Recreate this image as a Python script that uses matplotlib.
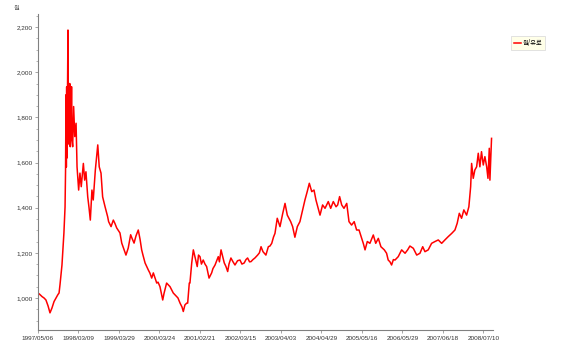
import matplotlib
matplotlib.use("Agg")
import matplotlib.pyplot as plt
from matplotlib.ticker import MultipleLocator, FuncFormatter

# trading-day index and KRW/EUR rate
obs = [0, 12, 25, 37, 49, 62, 74, 86, 99, 111, 123, 130, 136, 148, 154, 160,
       167, 170, 173, 175, 177, 179, 182, 185, 188, 190, 193, 196, 199, 204,
       207, 210, 214, 220, 227, 235, 241, 251, 259, 267, 280, 288, 296, 307,
       315, 323, 333, 341, 354, 369, 378, 389, 399, 414, 430, 436, 451, 465,
       475, 486, 506, 517, 531, 543, 557, 572, 580, 593, 605, 619, 630, 640,
       648, 661, 681, 691, 702, 712, 722, 733, 741, 753, 770, 778, 794, 802,
       815, 835, 856, 864, 877, 889, 897, 907, 918, 924, 934, 938, 949, 959,
       969, 983, 991, 1000, 1009, 1020, 1031, 1041, 1056, 1072, 1080, 1093,
       1113, 1120, 1130, 1150, 1160, 1171, 1179, 1191, 1204, 1216, 1232, 1247,
       1259, 1273, 1284, 1294, 1306, 1315, 1327, 1339, 1356, 1367, 1377, 1389,
       1407, 1422, 1432, 1443, 1454, 1463, 1477, 1494, 1511, 1525, 1539, 1560,
       1572, 1586, 1601, 1617, 1634, 1648, 1662, 1675, 1690, 1704, 1716, 1730,
       1741, 1757, 1772, 1792, 1807, 1823, 1840, 1850, 1862, 1875, 1889, 1906,
       1920, 1936, 1952, 1967, 1982, 1998, 2009, 2019, 2033, 2049, 2070, 2085,
       2101, 2117, 2138, 2152, 2162, 2173, 2183, 2194, 2204, 2224, 2245, 2266,
       2282, 2296, 2317, 2338, 2358, 2375, 2389, 2409, 2430, 2451, 2471, 2492,
       2512, 2533, 2554, 2574, 2588, 2601, 2615, 2629, 2646, 2660, 2671, 2677,
       2687, 2697, 2708, 2718, 2728, 2738, 2749, 2759, 2770, 2778, 2786, 2790,
       2800]
rate = [1022, 1015, 1006, 1000, 991, 965, 934, 955, 984, 1000, 1015, 1022,
        1060, 1146, 1220, 1288, 1403, 1560, 1900, 1580, 1935, 1620, 1940, 2187,
        1700, 1950, 1680, 1950, 1670, 1744, 1936, 1700, 1670, 1848, 1715, 1774,
        1581, 1478, 1553, 1493, 1596, 1522, 1559, 1448, 1400, 1345, 1478, 1434,
        1567, 1678, 1581, 1553, 1448, 1404, 1360, 1338, 1316, 1345, 1330, 1310,
        1288, 1243, 1215, 1190, 1221, 1280, 1265, 1243, 1275, 1301, 1260, 1213,
        1190, 1155, 1124, 1110, 1088, 1111, 1090, 1066, 1070, 1050, 991, 1020,
        1066, 1060, 1050, 1022, 1006, 1000, 977, 960, 940, 969, 977, 977, 1066,
        1066, 1155, 1213, 1183, 1139, 1190, 1183, 1150, 1168, 1150, 1139, 1088,
        1111, 1130, 1146, 1183, 1160, 1213, 1155, 1140, 1117, 1150, 1177, 1160,
        1146, 1165, 1168, 1150, 1155, 1170, 1177, 1160, 1161, 1170, 1177, 1190,
        1200, 1227, 1205, 1190, 1227, 1230, 1242, 1270, 1286, 1353, 1316, 1375,
        1419, 1367, 1338, 1316, 1269, 1316, 1338, 1390, 1434, 1471, 1508, 1471,
        1478, 1434, 1397, 1367, 1412, 1397, 1427, 1397, 1427, 1404, 1412, 1449,
        1412, 1397, 1419, 1338, 1323, 1338, 1301, 1301, 1264, 1240, 1213, 1250,
        1242, 1279, 1242, 1264, 1227, 1213, 1198, 1168, 1160, 1146, 1170, 1168,
        1183, 1213, 1198, 1213, 1230, 1220, 1190, 1198, 1227, 1205, 1213, 1242,
        1250, 1257, 1242, 1257, 1272, 1286, 1301, 1331, 1375, 1353, 1390, 1367,
        1404, 1493, 1596, 1530, 1567, 1581, 1641, 1581, 1648, 1589, 1626, 1581,
        1530, 1663, 1522, 1707]

tick_obs = [0, 250, 500, 750, 1000, 1250, 1500, 1750, 2000, 2250, 2500, 2750]
tick_labels = ["1997/05/06", "1998/03/09", "1999/03/29", "2000/03/24",
               "2001/02/21", "2002/03/15", "2003/04/03", "2004/04/29",
               "2005/05/16", "2006/05/29", "2007/06/18", "2008/07/10"]

plt.rcParams['font.family'] = ['Liberation Sans', 'DejaVu Sans']
kr = ['Noto Sans CJK KR', 'DejaVu Sans']

fig = plt.figure(figsize=(5.67, 3.58), dpi=100)
ax = fig.add_axes([38/567, 1-330/358, (493-38)/567, (330-14)/358])

ax.plot(obs, rate, color='#ff0000', linewidth=1.1, label='원/유로')

ax.set_xlim(0, 2809)
ax.set_ylim(858, 2258)
ax.set_xticks(tick_obs)
ax.set_xticklabels(tick_labels)
ax.yaxis.set_major_locator(MultipleLocator(200))
ax.yaxis.set_minor_locator(MultipleLocator(50))
ax.yaxis.set_major_formatter(FuncFormatter(lambda v, p: f"{int(v):,}"))

for s in ['top', 'right']:
    ax.spines[s].set_visible(False)
for s in ['left', 'bottom']:
    ax.spines[s].set_color('#808080')
    ax.spines[s].set_linewidth(0.8)

ax.tick_params(axis='both', labelsize=4.6, colors='#808080', labelcolor='#333333',
               length=2, width=0.5, pad=2)
ax.tick_params(axis='y', which='minor', length=1.5, width=0.5, colors='#999999')

fig.text(14/567, 1-8/358, '원', fontsize=4.5, color='#555555', family=kr,
         ha='left', va='center')

leg = ax.legend(loc='upper left', bbox_to_anchor=(508/567, 1-33/358),
                bbox_transform=fig.transFigure, prop={'family': kr, 'size': 4.5},
                handlelength=1.0, handletextpad=0.3, borderpad=0.5,
                fancybox=False, framealpha=1)
leg.get_frame().set_facecolor('#ffffe8')
leg.get_frame().set_edgecolor('#dddddd')
leg.get_frame().set_linewidth(0.6)

fig.savefig('out.png', dpi=100)
